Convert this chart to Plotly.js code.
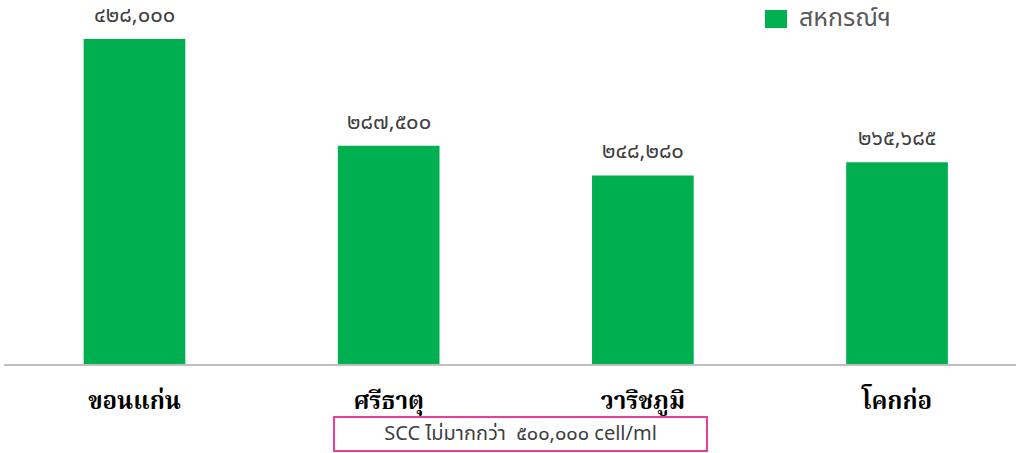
<!DOCTYPE html>
<html>
<head>
<meta charset="utf-8">
<script src="https://cdn.plot.ly/plotly-3.0.1.min.js"></script>
<style>html,body{margin:0;padding:0;background:#fff;}#chart{width:1016px;height:453px;}</style>
</head>
<body>
<div id="chart"></div>
<script>
const categories = ['ขอนแก่น', 'ศรีธาตุ', 'วาริชภูมิ', 'โคกก่อ'];
const values = [428000, 287500, 248280, 265685];
const valueLabels = ['๔๒๘,๐๐๐', '๒๘๗,๕๐๐', '๒๔๘,๒๘๐', '๒๖๕,๖๘๕'];
const seriesName = 'สหกรณ์ฯ';
const noteText = 'SCC ไม่มากกว่า  ๕๐๐,๐๐๐ cell/ml';

const green = '#00B050';
const thaiSans = 'Tahoma, "Noto Sans Thai", "DejaVu Sans", sans-serif';

const trace = {
  type: 'bar',
  x: categories,
  y: values,
  name: seriesName,
  marker: {color: green},
  width: 0.4,
  showlegend: false,
  hoverinfo: 'x+y'
};

const labelAnns = categories.map((c, i) => ({
  x: c, y: values[i], xref: 'x', yref: 'y',
  text: valueLabels[i], showarrow: false,
  yanchor: 'bottom', yshift: 5,
  font: {family: thaiSans, size: 22, color: '#404040'}
}));

const layout = {
  width: 1016, height: 453,
  margin: {l: 4, r: 0, t: 0, b: 89},
  paper_bgcolor: '#fff', plot_bgcolor: '#fff',
  showlegend: false,
  xaxis: {
    range: [-0.5134, 3.468],
    showline: true, linecolor: '#BFBFBF', linewidth: 2,
    ticks: '', ticklabelstandoff: 14,
    tickfont: {family: '"Angsana New", "Noto Serif Thai", "Liberation Serif", serif', size: 24, color: '#000', weight: 'bold'},
    showgrid: false, zeroline: false, fixedrange: true
  },
  yaxis: {
    range: [0, 479360], visible: false, showgrid: false, zeroline: false, fixedrange: true
  },
  shapes: [{
    type: 'rect', xref: 'paper', yref: 'paper',
    x0: (765 - 4) / 1012, x1: (787 - 4) / 1012,
    y0: (364 - 28) / 364, y1: (364 - 10) / 364,
    fillcolor: green, line: {width: 0}
  }],
  annotations: labelAnns.concat([{
    xref: 'paper', yref: 'paper', x: (797 - 4) / 1012, y: (364 - 18) / 364,
    xanchor: 'left', yanchor: 'middle', showarrow: false,
    text: seriesName,
    font: {family: thaiSans, size: 25, color: '#595959'}
  }, {
    xref: 'paper', yref: 'paper', x: (520 - 4) / 1012, y: -(434 - 364) / 364,
    xanchor: 'center', yanchor: 'middle',
    text: noteText, showarrow: false,
    width: 371, height: 32, bordercolor: '#E8409A', borderwidth: 2, borderpad: 0,
    font: {family: thaiSans, size: 20, color: '#404040'}
  }])
};

Plotly.newPlot('chart', [trace], layout, {displayModeBar: false, staticPlot: true});
</script>
</body>
</html>
